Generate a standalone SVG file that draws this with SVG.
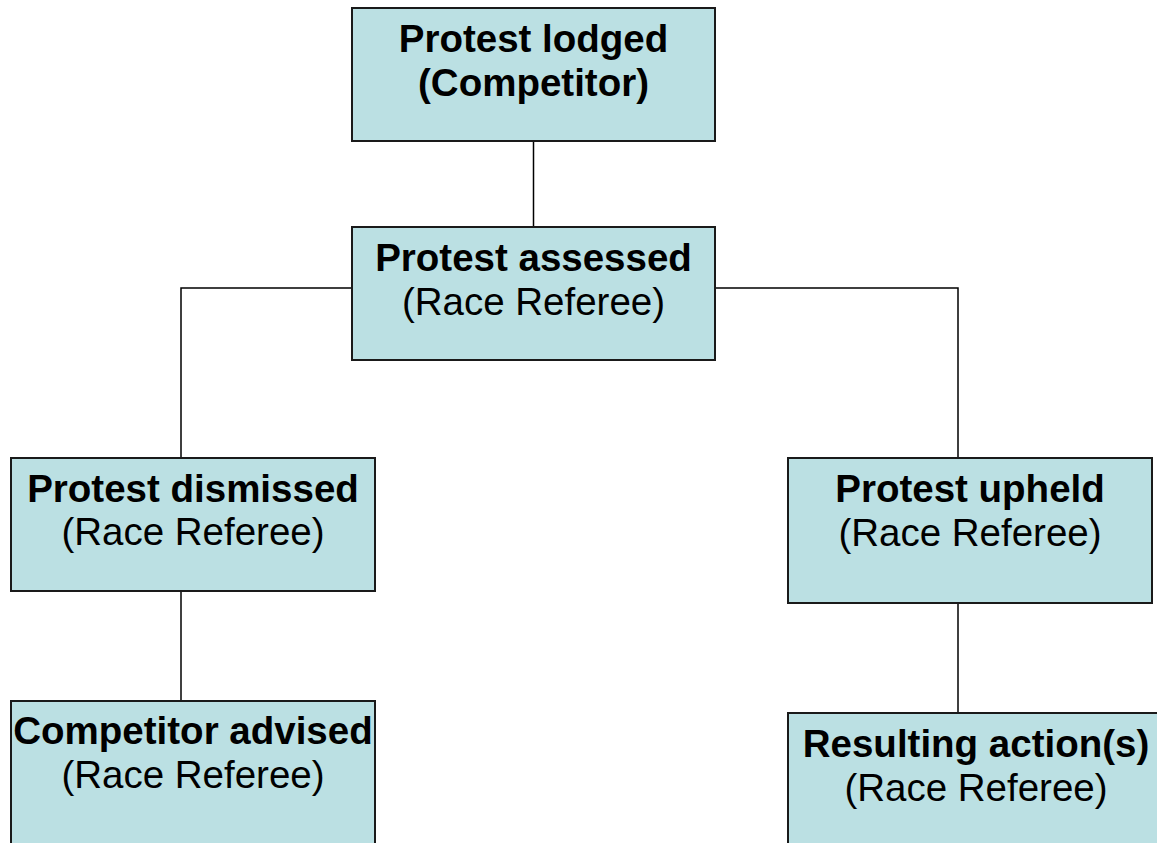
<svg xmlns="http://www.w3.org/2000/svg" width="1157" height="843" viewBox="0 0 1157 843">
<style>
.box{fill:#BBE0E3;stroke:#1a1a1a;stroke-width:2}
.b{font-family:"Liberation Sans",Arial,sans-serif;font-size:38.5px;font-weight:bold;fill:#000;text-anchor:middle}
.r{font-family:"Liberation Sans",Arial,sans-serif;font-size:38.5px;fill:#000;text-anchor:middle}
.c{fill:none;stroke:#000;stroke-width:1.5}
</style>
<rect width="1157" height="843" fill="#fff"/>
<g id="connectors">
<line class="c" x1="533.5" y1="141" x2="533.5" y2="227"/>
<polyline class="c" points="352,288 181,288 181,458"/>
<polyline class="c" points="715,288 958,288 958,458"/>
<line class="c" x1="181" y1="591" x2="181" y2="701"/>
<line class="c" x1="958" y1="603" x2="958" y2="713"/>
</g>
<g id="lodged">
<rect class="box" x="352" y="8" width="363" height="133"/>
<text class="b" x="533.5" y="52">Protest lodged</text>
<text class="b" x="533.5" y="96">(Competitor)</text>
</g>
<g id="assessed">
<rect class="box" x="352" y="227" width="363" height="133"/>
<text class="b" x="533.5" y="271">Protest assessed</text>
<text class="r" x="533.5" y="315">(Race Referee)</text>
</g>
<g id="dismissed">
<rect class="box" x="11" y="458" width="364" height="133"/>
<text class="b" x="193" y="502">Protest dismissed</text>
<text class="r" x="193" y="545">(Race Referee)</text>
</g>
<g id="upheld">
<rect class="box" x="788" y="458" width="364" height="145"/>
<text class="b" x="970" y="502">Protest upheld</text>
<text class="r" x="970" y="546">(Race Referee)</text>
</g>
<g id="advised">
<rect class="box" x="11" y="701" width="364" height="150"/>
<text class="b" x="193" y="744">Competitor advised</text>
<text class="r" x="193" y="788">(Race Referee)</text>
</g>
<g id="resulting">
<rect class="box" x="788" y="713" width="380" height="140"/>
<text class="b" x="976" y="757">Resulting action(s)</text>
<text class="r" x="976" y="801">(Race Referee)</text>
</g>
</svg>
